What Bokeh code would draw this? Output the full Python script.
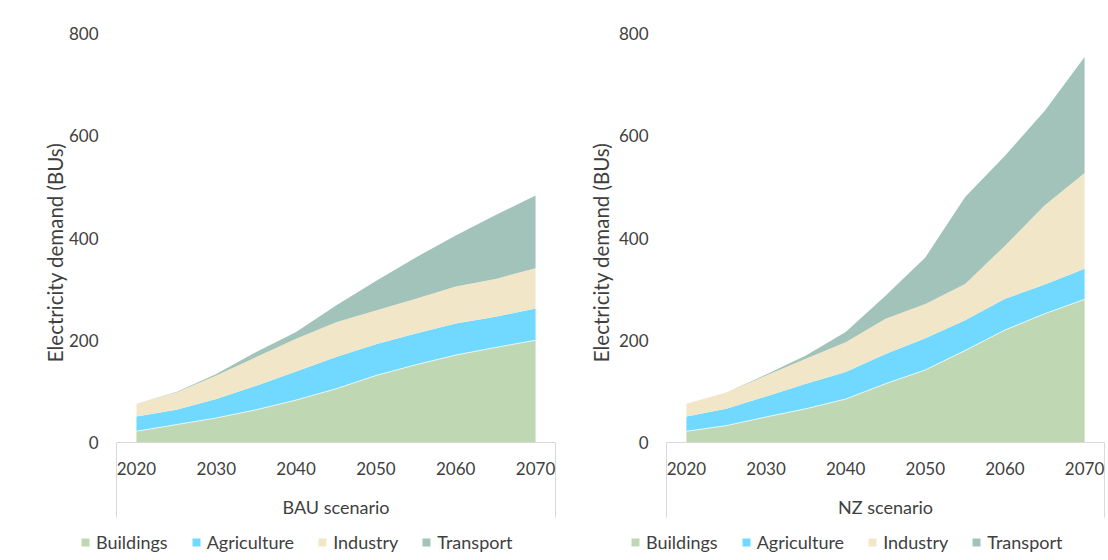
from math import pi

from bokeh.plotting import figure
from bokeh.layouts import row
from bokeh.models import (ColumnDataSource, FixedTicker, Legend, LegendItem,
                          LinearAxis, Range1d)
from bokeh.core.properties import value
from bokeh.embed import file_html
from bokeh.resources import INLINE

# Electricity demand by sector (BUs), 5-year steps
years = [2020, 2025, 2030, 2035, 2040, 2045, 2050, 2055, 2060, 2065, 2070]
sectors = ["Buildings", "Agriculture", "Industry", "Transport"]
sector_colors = ["#C0D7B4", "#71D9FF", "#F2E6C8", "#A2C3B9"]

bau_buildings = [22, 35, 48, 64, 83, 105, 131, 152, 171, 186, 200]
bau_agriculture = [29, 29, 37, 47, 56, 62, 61, 61, 62, 60, 62]
bau_industry = [25, 34, 46, 56, 64, 68, 66, 68, 72, 74, 79]
bau_transport = [0, 1, 3, 10, 13, 33, 58, 81, 100, 125, 142]

nz_buildings = [22, 33, 50, 66, 85, 115, 142, 180, 220, 252, 280]
nz_agriculture = [29, 33, 40, 49, 53, 58, 62, 59, 61, 57, 60]
nz_industry = [25, 32, 41, 49, 58, 69, 67, 71, 104, 155, 187]
nz_transport = [0, 0, 2, 6, 20, 45, 91, 170, 176, 185, 227]

year_ticks = [2020, 2030, 2040, 2050, 2060, 2070]
demand_ticks = [0, 200, 400, 600, 800]
y_title = "Electricity demand (BUs)"
scenario_titles = ["BAU scenario", "NZ scenario"]

FONT = "Lato"
TEXT = "#3F3F3F"
AXIS_GREY = "#D9D9D9"

HEIGHT = 560
ZERO_PX = 442          # canvas row of the zero line
TOP_PX = 33            # canvas row of the top tick
PX_PER_UNIT = (ZERO_PX - TOP_PX) / demand_ticks[-1]
BOX_DEPTH_PX = 75      # how far the category box reaches below the zero line


def scenario_panel(title, values, width, box_left_px, box_right_px,
                   legend_x, ytitle_offset):
    data = dict(year=years)
    for name, vals in zip(sectors, values):
        data[name] = vals
    src = ColumnDataSource(data)

    half_step = (years[1] - years[0]) / 2
    x_lo, x_hi = years[0] - half_step, years[-1] + half_step
    px_per_year = (box_right_px - box_left_px) / (x_hi - x_lo)
    x_start = x_lo - box_left_px / px_per_year
    x_end = x_lo + (width - box_left_px) / px_per_year
    y_start = -(HEIGHT - ZERO_PX) / PX_PER_UNIT
    y_end = ZERO_PX / PX_PER_UNIT

    p = figure(width=width, height=HEIGHT,
               x_range=Range1d(x_start, x_end),
               y_range=Range1d(y_start, y_end),
               output_backend="svg", toolbar_location=None,
               x_axis_location=None, y_axis_location=None,
               min_border=0)
    p.outline_line_color = None
    p.xgrid.visible = False
    p.ygrid.visible = False
    p.background_fill_color = "white"
    p.border_fill_color = "white"

    areas = p.varea_stack(sectors, x="year", color=sector_colors, source=src)
    p.line(x="year", y=sectors[0], source=src, line_color="white",
           line_width=1, line_alpha=0.7)

    # open category box under the plot area
    box_bottom = -BOX_DEPTH_PX / PX_PER_UNIT
    p.line(x=[x_lo, x_lo, x_hi, x_hi], y=[box_bottom, 0, 0, box_bottom],
           line_color=AXIS_GREY, line_width=1)

    xaxis = LinearAxis(ticker=FixedTicker(ticks=year_ticks, minor_ticks=[]),
                       fixed_location=0)
    xaxis.axis_line_color = None
    xaxis.major_tick_line_color = None
    xaxis.minor_tick_line_color = None
    xaxis.major_tick_in = 0
    xaxis.major_tick_out = 0
    xaxis.major_label_standoff = 19
    xaxis.major_label_text_font = FONT
    xaxis.major_label_text_font_size = "17px"
    xaxis.major_label_text_color = TEXT
    p.add_layout(xaxis, "below")

    yaxis = LinearAxis(ticker=FixedTicker(ticks=demand_ticks, minor_ticks=[]),
                       fixed_location=x_lo)
    yaxis.axis_line_color = None
    yaxis.major_tick_line_color = None
    yaxis.minor_tick_line_color = None
    yaxis.major_tick_in = 0
    yaxis.major_tick_out = 0
    yaxis.major_label_standoff = 18
    yaxis.major_label_text_font = FONT
    yaxis.major_label_text_font_size = "17px"
    yaxis.major_label_text_color = TEXT
    p.add_layout(yaxis, "left")

    # axis titles
    p.text(x=[x_lo], y=[(ZERO_PX - 252) / PX_PER_UNIT], text=[y_title],
           angle=pi / 2, x_offset=ytitle_offset, text_align="center",
           text_baseline="middle", text_font=value(FONT),
           text_font_size="20.5px", text_color=TEXT)
    p.text(x=[(x_lo + x_hi) / 2], y=[-(506 - ZERO_PX) / PX_PER_UNIT],
           text=[title], text_align="center", text_baseline="middle",
           text_font=value(FONT), text_font_size="18px", text_color=TEXT)

    legend = Legend(items=[LegendItem(label=s, renderers=[r])
                           for s, r in zip(sectors, areas)],
                    orientation="horizontal", location=(legend_x, 7),
                    padding=0, margin=0, spacing=23, label_standoff=6,
                    glyph_width=10, glyph_height=10,
                    border_line_color=None, background_fill_alpha=0,
                    label_text_font=FONT, label_text_font_size="18px",
                    label_text_color=TEXT)
    p.add_layout(legend)
    return p


left = scenario_panel(scenario_titles[0],
                      [bau_buildings, bau_agriculture, bau_industry, bau_transport],
                      560, 116, 555, 80, -62)
right = scenario_panel(scenario_titles[1],
                       [nz_buildings, nz_agriculture, nz_industry, nz_transport],
                       548, 106, 544, 70, -66)

layout = row(left, right)
open("out.html", "w").write(file_html(layout, INLINE))
